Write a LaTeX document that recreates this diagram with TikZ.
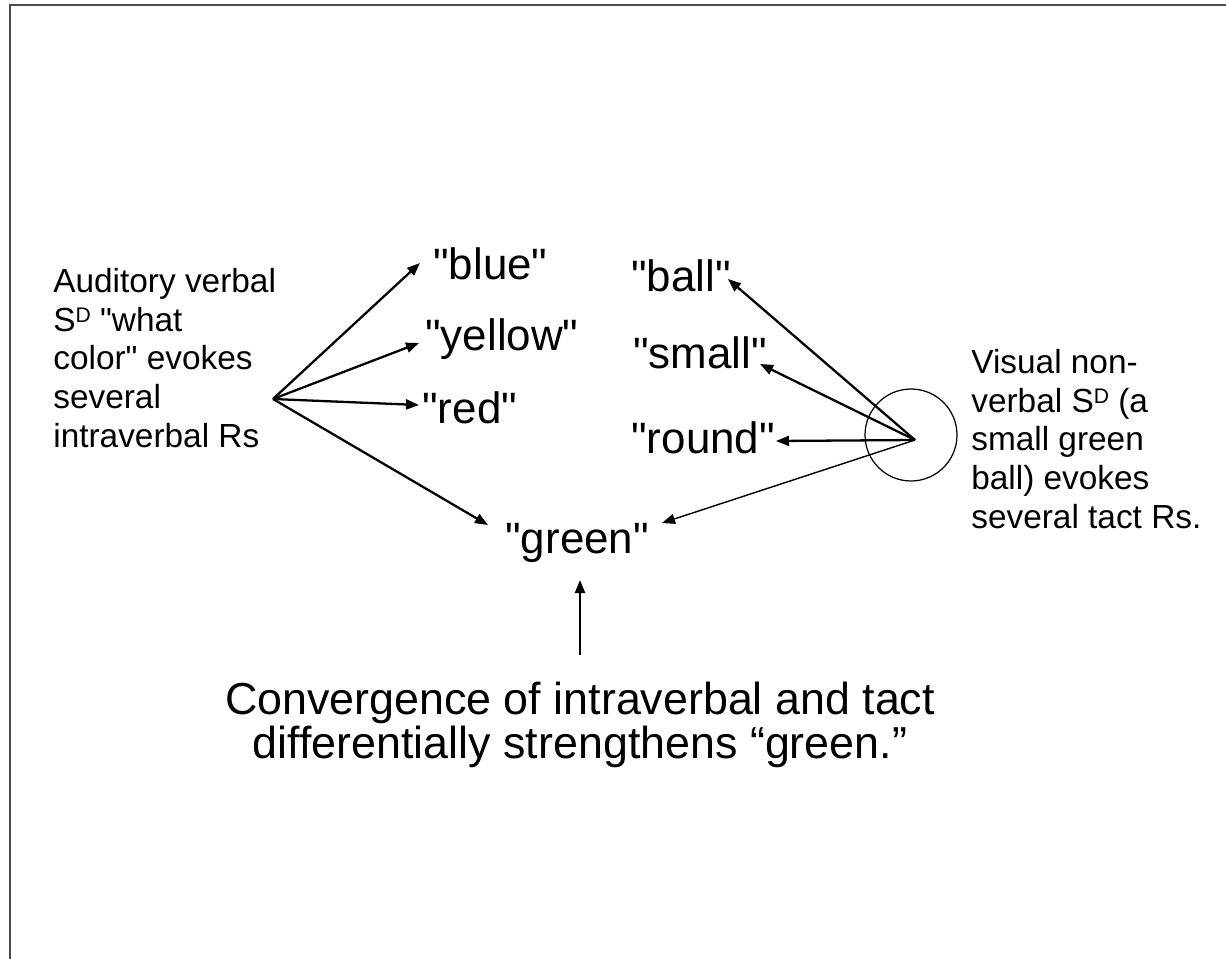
\documentclass[tikz,border=0pt]{standalone}
\usepackage{fontspec}
\setmainfont{Liberation Sans}[Ligatures=TeXOff]
\usetikzlibrary{arrows.meta}

\newcommand{\SDsup}{S\raisebox{5pt}{\fontsize{12}{12}\selectfont D}}

\begin{document}
\begin{tikzpicture}[x=0.02cm, y=-0.02cm, inner sep=0pt,
  word/.style={anchor=base west, font=\fontsize{25}{25}\selectfont},
  note/.style={anchor=north west, align=left, font=\fontsize{19}{22}\selectfont},
  arr/.style={-{Triangle[length=2.6mm, width=2mm]}, line width=1.3pt},
  thinarr/.style={-{Triangle[length=2.6mm, width=2mm]}, line width=0.8pt}]

\useasboundingbox (0,0) rectangle (1226,959);
\fill[white] (0,0) rectangle (1226,959);

% Frame
\draw[black!70, line width=0.9pt] (10,959) -- (10,5) -- (1226,5);

% Stimuli
\node[note] (auditory) at (53,268) {Auditory verbal\\\SDsup{} "what\\color" evokes\\several\\intraverbal Rs};
\node[note] (visual) at (971,349) {Visual non-\\verbal \SDsup{} (a\\small green\\ball) evokes\\several tact Rs.};
\node[circle, draw, line width=0.7pt, minimum size=1.84cm] (ballpic) at (911,435) {};

% Responses
\node[word] (blue) at (433,279) {"blue"};
\node[word] (yellow) at (425,350) {"yellow"};
\node[word] (red) at (422,423) {"red"};
\node[word] (ball) at (631,292) {"ball"};
\node[word] (small) at (633,368) {"small"};
\node[word] (round) at (631,453) {"round"};
\node[word] (green) at (505,553) {"green"};

% Convergence
\node[anchor=north, align=center, font=\fontsize{25.5}{23}\selectfont] (conv) at (580,682)
  {Convergence of intraverbal and tact\\differentially strengthens “green.”};

% Arrow ends
\coordinate (srcL) at (273,399);
\coordinate (srcR) at (915,440);
\coordinate (toBlue) at (420,263);
\coordinate (toYellow) at (419,343);
\coordinate (toRed) at (419,405);
\coordinate (toGreenL) at (488,525);
\coordinate (toBall) at (728,279);
\coordinate (toSmall) at (760,364);
\coordinate (toRound) at (776,441);
\coordinate (toGreenR) at (662,523);
\coordinate (convTop) at (580,655);
\coordinate (greenBot) at (580,580);

% Arrows
\foreach \t in {toBlue, toYellow, toRed, toGreenL}
  \draw[arr] (srcL) -- (\t);
\foreach \t in {toBall, toSmall, toRound}
  \draw[arr] (srcR) -- (\t);
\draw[thinarr] (srcR) -- (toGreenR);
\draw[arr] (convTop) -- (greenBot);

\end{tikzpicture}
\end{document}
